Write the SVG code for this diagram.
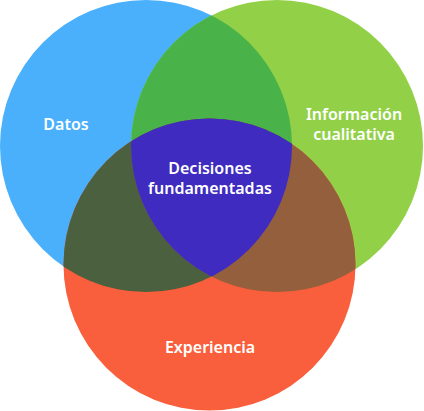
<svg xmlns="http://www.w3.org/2000/svg" width="424" height="411" viewBox="0 0 424 411">
<style>
.lbl{font-family:"Noto Sans","Open Sans","Liberation Sans",sans-serif;font-size:16px;font-weight:600;fill:#ffffff;text-anchor:middle}
</style>
<defs>
<clipPath id="cB"><circle cx="146" cy="146" r="146"/></clipPath>
<clipPath id="cG"><circle cx="277" cy="146" r="146"/></clipPath>
<clipPath id="cR"><circle cx="209.5" cy="264.5" r="146"/></clipPath>
</defs>
<rect width="424" height="411" fill="#ffffff"/>
<g id="datos">
<circle cx="146" cy="146" r="146" fill="#4AB0FC"/>
</g>
<g id="informacion">
<circle cx="277" cy="146" r="146" fill="#92D147"/>
</g>
<g id="experiencia">
<circle cx="209.5" cy="264.5" r="146" fill="#F95F3C"/>
</g>
<g id="overlaps">
<g clip-path="url(#cB)"><circle cx="277" cy="146" r="146" fill="#49B34A"/></g>
<g clip-path="url(#cB)"><circle cx="209.5" cy="264.5" r="146" fill="#4A603F"/></g>
<g clip-path="url(#cG)"><circle cx="209.5" cy="264.5" r="146" fill="#935F3C"/></g>
</g>
<g id="decisiones">
<g clip-path="url(#cB)"><g clip-path="url(#cG)"><circle cx="209.5" cy="264.5" r="146" fill="#3F2BC0"/></g></g>
</g>
<g id="connectors"></g>
<g id="labels">
<text class="lbl" x="66" y="130">Datos</text>
<text class="lbl" x="354" y="120">Información</text>
<text class="lbl" x="354" y="140">cualitativa</text>
<text class="lbl" x="210" y="174">Decisiones</text>
<text class="lbl" x="210" y="194">fundamentadas</text>
<text class="lbl" x="210" y="353">Experiencia</text>
</g>
</svg>
